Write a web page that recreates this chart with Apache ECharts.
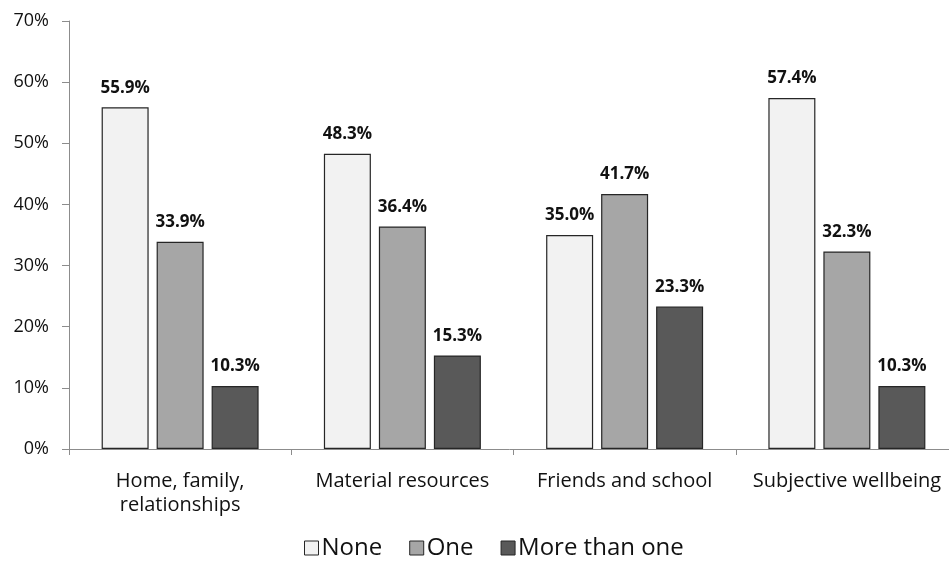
<!DOCTYPE html>
<html><head><meta charset="utf-8">
<script src="https://cdn.jsdelivr.net/npm/echarts@6/dist/echarts.min.js"></script>
<style>html,body{margin:0;padding:0;background:#fff}#c{width:949px;height:566px}</style>
</head><body><div id="c"></div>
<script>
const categories = ["Home, family,\nrelationships", "Material resources", "Friends and school", "Subjective wellbeing"];
const seriesNames = ["None", "One", "More than one"];
const noneVals = [55.9, 48.3, 35.0, 57.4];
const oneVals = [33.9, 36.4, 41.7, 32.3];
const moreVals = [10.3, 15.3, 23.3, 10.3];
const yTicks = [0, 10, 20, 30, 40, 50, 60, 70];
const colors = ["#f2f2f2", "#a6a6a6", "#595959"];
const FONT = "'Open Sans', 'Noto Sans', sans-serif";

const chart = echarts.init(document.getElementById('c'), null, {renderer: 'canvas'});
const mk = (name, data, color) => ({
  name, type: 'bar', data,
  barWidth: 47, barGap: '17%', barCategoryGap: '29%',
  itemStyle: {color, borderColor: '#262626', borderWidth: 1.2},
  label: {show: true, position: 'top', distance: 11, formatter: p => p.value.toFixed(1) + '%',
    fontFamily: FONT, fontWeight: 'bold', fontSize: 17, color: '#111'}
});
chart.setOption({
  animation: false,
  grid: {left: 69, width: 889, top: 21, bottom: 117, containLabel: false, outerBoundsMode: 'none'},
  legend: {
    bottom: 1, left: 299, itemWidth: 14, itemHeight: 14, itemGap: 27,
    textStyle: {fontFamily: FONT, fontSize: 24, color: '#111', padding: [0, 0, 0, -2]},
    icon: 'rect',
    itemStyle: {borderColor: '#262626', borderWidth: 1},
    data: seriesNames
  },
  xAxis: {
    type: 'category', data: categories,
    axisLine: {lineStyle: {color: '#8c8c8c', width: 1}},
    axisTick: {show: true, alignWithLabel: false, length: 6, lineStyle: {color: '#8c8c8c'}},
    axisLabel: {fontFamily: FONT, fontSize: 20, color: '#111', margin: 20, lineHeight: 24, interval: 0}
  },
  yAxis: {
    type: 'value', min: 0, max: 70, interval: 10,
    axisLine: {show: true, lineStyle: {color: '#8c8c8c', width: 1}},
    axisTick: {show: true, inside: false, length: 7, lineStyle: {color: '#8c8c8c'}},
    splitLine: {show: false},
    axisLabel: {fontFamily: FONT, fontSize: 18, color: '#111', margin: 20,
      formatter: v => yTicks.includes(v) ? v + '%' : ''}
  },
  series: [mk(seriesNames[0], noneVals, colors[0]), mk(seriesNames[1], oneVals, colors[1]), mk(seriesNames[2], moreVals, colors[2])]
});
</script></body></html>
